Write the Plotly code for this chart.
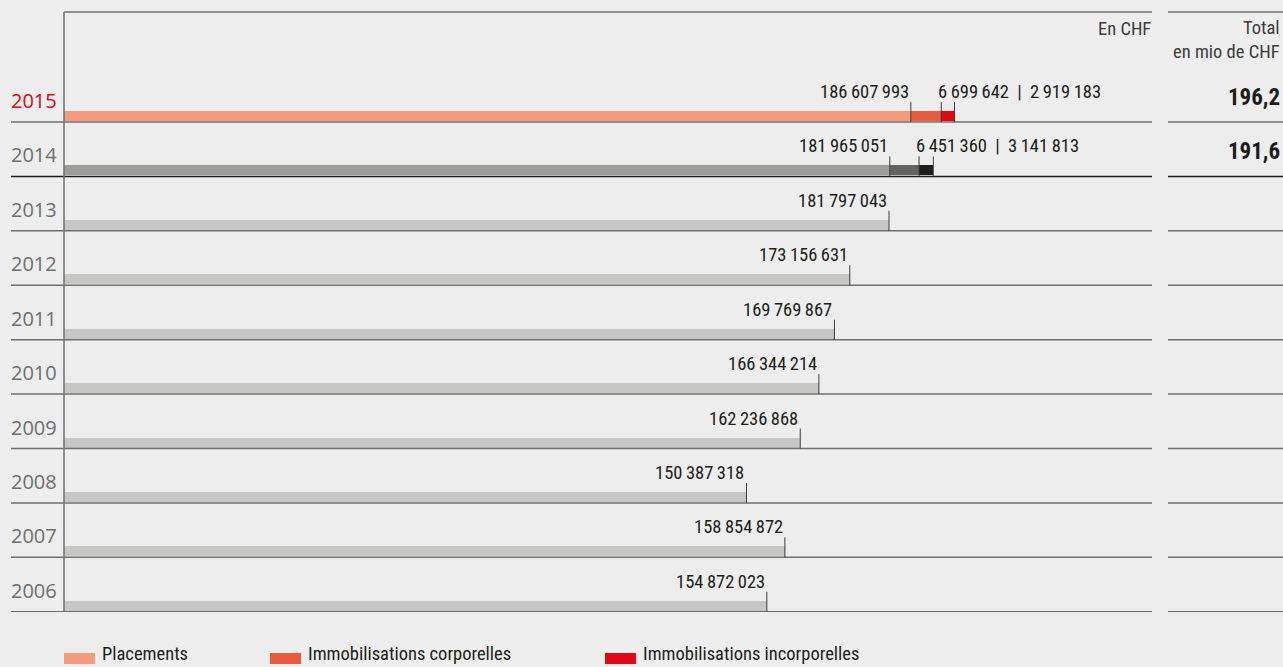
import plotly.graph_objects as go

years = ["2015", "2014", "2013", "2012", "2011", "2010", "2009", "2008", "2007", "2006"]
placements = [186607993, 181965051, 181797043, 173156631, 169769867, 166344214,
              162236868, 150387318, 158854872, 154872023]
corporelles = [6699642, 6451360]
incorporelles = [2919183, 3141813]
totals = ["196,2", "191,6"]
legend_labels = ["Placements", "Immobilisations corporelles", "Immobilisations incorporelles"]

col_pl = ["#F49B7D", "#9D9D9C"] + ["#C6C6C5"] * 8
col_corp = ["#EA5B3E", "#636362"]
col_inc = ["#E30613", "#1D1D1B"]
legend_colors = ["#F49B7D", "#EA5B3E", "#E30613"]

W, H = 1283, 667
L, R, T, B = 64, 131, 12, 55
PW, PH = W - L - R, H - T - B
ROW = 54.42
Y0 = 122  # pixel baseline of first row
y_top = -(Y0 - T) / ROW
y_bot = (T + PH - Y0) / ROW
XMAX = 239.75e6


def px(x):
    return (x - L) / PW


def py(y):
    return (T + PH - y) / PH


def fmt(v):
    return f"{v:,}".replace(",", "\u2009")


FONT = "Liberation Sans Narrow, Roboto Condensed, Roboto, sans-serif"
NUMSIZE = 18.5
rows = list(range(len(years)))
bar_w = 10 / ROW
bar_y = [i - 6 / ROW for i in rows]

fig = go.Figure()
fig.add_trace(go.Bar(orientation="h", y=bar_y, x=placements, width=bar_w,
                     marker=dict(color=col_pl, line_width=0), showlegend=False, hoverinfo="skip"))
fig.add_trace(go.Bar(orientation="h", y=bar_y[:2], x=corporelles, width=bar_w,
                     marker=dict(color=col_corp, line_width=0), showlegend=False, hoverinfo="skip"))
fig.add_trace(go.Bar(orientation="h", y=bar_y[:2], x=incorporelles, width=bar_w,
                     marker=dict(color=col_inc, line_width=0), showlegend=False, hoverinfo="skip"))

shapes = []
ann = []
tick_h = 20 / ROW
for i, yr in enumerate(years):
    lc = "#1D1D1B" if i == 1 else "#706F6F"
    shapes.append(dict(type="line", xref="paper", yref="y", x0=px(11), x1=1, y0=i, y1=i,
                       line=dict(color=lc, width=1.5)))
    shapes.append(dict(type="line", xref="paper", yref="y", x0=px(1168), x1=px(1283), y0=i, y1=i,
                       line=dict(color=lc, width=1.5)))
    ann.append(dict(text=yr, xref="paper", yref="y", x=px(9), y=i, xanchor="left", yanchor="bottom",
                    yshift=6, showarrow=False,
                    font=dict(family="Open Sans, sans-serif", size=20,
                              color="#E30613" if i == 0 else "#6F6F6E")))
    ticks = [placements[i]]
    if i < 2:
        ticks += [placements[i] + corporelles[i], placements[i] + corporelles[i] + incorporelles[i]]
    for t in ticks:
        shapes.append(dict(type="line", xref="x", yref="y", x0=t, x1=t, y0=i, y1=i - tick_h,
                           line=dict(color="#3C3C3B", width=1)))
    ann.append(dict(text=fmt(placements[i]), xref="x", yref="y", x=placements[i], y=i,
                    xanchor="right", yanchor="bottom", xshift=0, yshift=17, showarrow=False,
                    font=dict(family=FONT, size=NUMSIZE, color="#1D1D1B")))
    if i < 2:
        ann.append(dict(text=fmt(corporelles[i]) + "\u2002|\u2002" + fmt(incorporelles[i]),
                        xref="x", yref="y", x=placements[i] + corporelles[i], y=i,
                        xanchor="left", yanchor="bottom", xshift=-5, yshift=17, showarrow=False,
                        font=dict(family=FONT, size=NUMSIZE, color="#1D1D1B")))
        ann.append(dict(text="<b>" + totals[i] + "</b>", xref="paper", yref="y", x=px(1282), y=i,
                        xanchor="right", yanchor="bottom", yshift=9, showarrow=False,
                        font=dict(family=FONT, size=23, color="#1D1D1B")))

# frame lines
shapes.append(dict(type="line", xref="paper", yref="paper", x0=0, x1=1, y0=1, y1=1,
                   line=dict(color="#706F6F", width=1.5)))
shapes.append(dict(type="line", xref="paper", yref="paper", x0=px(1168), x1=px(1283), y0=1, y1=1,
                   line=dict(color="#706F6F", width=1.5)))
shapes.append(dict(type="line", xref="paper", yref="paper", x0=0, x1=0, y0=0, y1=1,
                   line=dict(color="#706F6F", width=1.5)))

ann.append(dict(text="En CHF", xref="paper", yref="paper", x=px(1153), y=py(16), xanchor="right",
                yanchor="top", showarrow=False, font=dict(family=FONT, size=NUMSIZE, color="#3C3C3B")))
ann.append(dict(text="Total<br>en mio de CHF", xref="paper", yref="paper", x=px(1282), y=py(15),
                xanchor="right", yanchor="top", align="right", showarrow=False,
                font=dict(family=FONT, size=NUMSIZE, color="#3C3C3B")))

# legend
leg_x = [64, 270, 605]
for lx, lab, c in zip(leg_x, legend_labels, legend_colors):
    shapes.append(dict(type="rect", xref="paper", yref="paper", x0=px(lx), x1=px(lx + 31),
                       y0=py(664), y1=py(653), fillcolor=c, line_width=0))
    ann.append(dict(text=lab, xref="paper", yref="paper", x=px(lx + 36), y=py(654), xanchor="left",
                    yanchor="middle", showarrow=False, font=dict(family=FONT, size=18.5, color="#1D1D1B")))

fig.update_layout(
    width=W, height=H, margin=dict(l=L, r=R, t=T, b=B),
    paper_bgcolor="#ECEDEC", plot_bgcolor="#ECEDEC",
    barmode="stack", bargap=0,
    xaxis=dict(range=[0, XMAX], visible=False, fixedrange=True),
    yaxis=dict(range=[y_bot, y_top], visible=False, fixedrange=True),
    shapes=shapes, annotations=ann, showlegend=False,
)
fig.write_html("out.html", config={"displayModeBar": False},
               post_script="document.body.style.margin='0';document.body.style.overflow='hidden';"
                           "document.body.style.background='#ECEDEC';")
